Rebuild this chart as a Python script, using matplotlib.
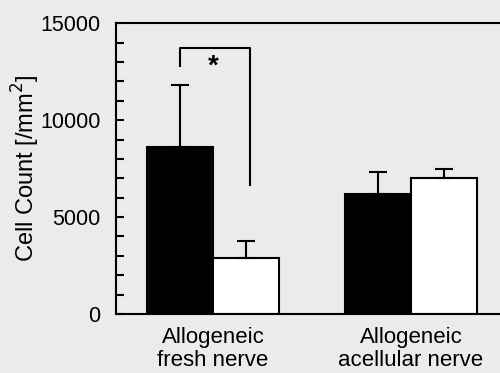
import numpy as np
import matplotlib
matplotlib.use("Agg")
import matplotlib.pyplot as plt

plt.rcParams['font.family'] = ['Liberation Sans', 'DejaVu Sans']

groups = ["Allogeneic\nfresh nerve", "Allogeneic\nacellular nerve"]
black_vals = [8600, 6200]
black_err = [3200, 1100]
white_vals = [2900, 7000]
white_err = [850, 500]

bg = '#ebebeb'
fig = plt.figure(figsize=(5.0, 3.73), dpi=100, facecolor=bg)
ax = fig.add_axes([0.232, 0.158, 0.788, 0.78], facecolor=bg)

x = np.arange(len(groups))
w = 0.333
ekw = dict(ecolor='black', elinewidth=1.5, capsize=6.5, capthick=1.5)
ax.bar(x - w / 2, black_vals, w, color='black', edgecolor='black', linewidth=1.5,
       yerr=[np.zeros(2), black_err], error_kw=ekw)
ax.bar(x + w / 2, white_vals, w, color='white', edgecolor='black', linewidth=1.5,
       yerr=[np.zeros(2), white_err], error_kw=ekw)

# significance bracket
y_top = 13700
ax.plot([-w / 2, -w / 2, 0.187, 0.187], [12800, y_top, y_top, 6650], color='black', lw=1.5)
ax.text(0, 12750, '*', ha='center', va='center', fontsize=20, fontweight='bold')

ax.set_xlim(-0.49, 1.5)
ax.set_ylim(0, 15000)
ax.set_yticks([0, 5000, 10000, 15000])
ax.set_yticks(np.arange(0, 15001, 1000), minor=True)
ax.tick_params(axis='y', which='both', direction='in', labelsize=15.5, width=1.5, length=6, pad=11)
ax.tick_params(axis='x', length=0, labelsize=16, pad=9)
ax.set_xticks(x)
ax.set_xticklabels(groups, linespacing=1.15)
ax.set_ylabel('Cell Count [/mm$^2$]', fontsize=17, labelpad=-1)
for s in ax.spines.values():
    s.set_linewidth(1.5)

fig.savefig('out.png', dpi=100, facecolor=bg)
